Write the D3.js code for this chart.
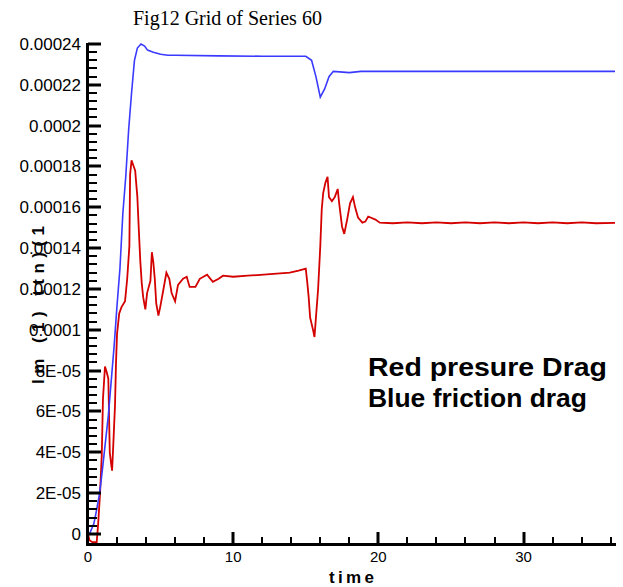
<!DOCTYPE html>
<html>
<head>
<meta charset="utf-8">
<script src="https://cdn.jsdelivr.net/npm/d3@7"></script>
<style>
  body { margin: 0; background: #fff; }
  svg { display: block; }
</style>
</head>
<body>
<svg id="chart" width="623" height="587"></svg>
<script>
// values are in units of 1E-05
const UNIT = 1e-5;

const blueTime  = [0.1, 0.4, 0.6, 0.8, 1.0, 1.2, 1.4, 1.6, 1.8, 2.0, 2.2, 2.4, 2.6, 2.8, 3.0, 3.2, 3.4, 3.65, 3.9, 4.1, 4.5, 5.0, 5.5, 6.0, 9.0, 12.0, 15.0, 15.4, 15.7, 16.0, 16.3, 16.6, 16.9, 18.0, 18.8, 36.3];
const blueValue = [0.0, 0.5, 1.2, 2.0, 3.2, 4.5, 5.8, 7.5, 9.2, 11.2, 13.0, 15.7, 17.5, 19.8, 21.6, 23.2, 23.8, 24.0, 23.9, 23.7, 23.6, 23.5, 23.45, 23.45, 23.42, 23.4, 23.4, 23.2, 22.4, 21.4, 21.8, 22.4, 22.66, 22.6, 22.66, 22.66];

const redTime  = [0.0, 0.1, 0.3, 0.6, 0.7, 0.83, 0.95, 1.03, 1.17, 1.3, 1.4, 1.5, 1.6, 1.66, 1.75, 1.86, 1.93, 2.0, 2.15, 2.3, 2.55, 2.7, 2.85, 2.9, 3.0, 3.15, 3.25, 3.4, 3.5, 3.6, 3.7, 3.8, 3.95, 4.07, 4.3, 4.4, 4.5, 4.6, 4.7, 4.85, 4.97, 5.2, 5.4, 5.6, 5.76, 6.0, 6.2, 6.55, 6.8, 7.0, 7.4, 7.7, 8.2, 8.6, 9.0, 9.3, 10.0, 11.0, 12.1, 13.0, 13.9, 14.5, 15.0, 15.1, 15.2, 15.3, 15.5, 15.6, 15.7, 15.85, 16.0, 16.1, 16.2, 16.35, 16.5, 16.6, 16.8, 17.0, 17.2, 17.3, 17.5, 17.65, 17.85, 18.05, 18.25, 18.4, 18.6, 18.9, 19.1, 19.3, 19.8, 20.1, 21.0, 22.0, 23.0, 24.0, 25.0, 26.0, 27.0, 28.0, 29.0, 30.0, 31.0, 32.0, 33.0, 34.0, 35.0, 36.3];
const redValue = [0.0, -0.3, -0.4, -0.4, 0.5, 2.0, 3.9, 6.6, 8.2, 7.9, 7.6, 4.0, 3.4, 3.1, 4.5, 6.3, 8.4, 9.8, 10.8, 11.1, 11.4, 12.5, 14.1, 17.6, 18.3, 18.0, 17.8, 16.5, 14.9, 13.4, 12.3, 11.6, 11.0, 11.8, 12.4, 13.8, 13.3, 12.5, 11.3, 10.7, 11.1, 12.0, 12.8, 12.5, 11.8, 11.4, 12.2, 12.5, 12.6, 12.1, 12.1, 12.5, 12.7, 12.35, 12.5, 12.65, 12.6, 12.65, 12.7, 12.75, 12.8, 12.9, 13.0, 12.35, 11.6, 10.6, 10.0, 9.65, 10.6, 12.0, 14.1, 15.9, 16.7, 17.2, 17.5, 16.5, 16.3, 16.5, 16.9, 16.2, 15.05, 14.7, 15.4, 16.2, 16.5, 16.0, 15.5, 15.25, 15.3, 15.55, 15.4, 15.25, 15.22, 15.26, 15.22, 15.26, 15.22, 15.26, 15.22, 15.26, 15.22, 15.26, 15.22, 15.26, 15.22, 15.26, 15.22, 15.24];

const xMajor = [0, 10, 20, 30];
const xMinor = [2, 4, 6, 8, 12, 14, 16, 18, 22, 24, 26, 28, 32, 34, 36];
const yMajor = [0, 2, 4, 6, 8, 10, 12, 14, 16, 18, 20, 22, 24];
const yMinor = [0.4, 0.8, 1.2, 1.6, 2.4, 2.8, 3.2, 3.6, 4.4, 4.8, 5.2, 5.6, 6.4, 6.8, 7.2, 7.6, 8.4, 8.8, 9.2, 9.6, 10.4, 10.8, 11.2, 11.6, 12.4, 12.8, 13.2, 13.6, 14.4, 14.8, 15.2, 15.6, 16.4, 16.8, 17.2, 17.6, 18.4, 18.8, 19.2, 19.6, 20.4, 20.8, 21.2, 21.6, 22.4, 22.8, 23.2, 23.6];
const yTickLabels = ["0", "2E-05", "4E-05", "6E-05", "8E-05", "0.0001", "0.00012", "0.00014", "0.00016", "0.00018", "0.0002", "0.00022", "0.00024"];

const svg = d3.select("#chart");
const x = d3.scaleLinear().domain([0, 36.3]).range([88, 615]);
const y = d3.scaleLinear().domain([-0.49 * UNIT, 24 * UNIT]).range([544, 44]);
const sans = "Liberation Sans, Arial, sans-serif";

// title
svg.append("text").attr("x", 133).attr("y", 25)
    .attr("font-family", "Liberation Serif, Times New Roman, serif").attr("font-size", "20px")
    .text("Fig12 Grid of Series 60");

// series
const line = d3.line().x(d => x(d[0])).y(d => y(d[1] * UNIT));
svg.append("path").datum(redTime.map((t, i) => [t, redValue[i]]))
    .attr("d", line).attr("fill", "none").attr("stroke", "#d40000").attr("stroke-width", 1.8);
svg.append("path").datum(blueTime.map((t, i) => [t, blueValue[i]]))
    .attr("d", line).attr("fill", "none").attr("stroke", "#3a3aff").attr("stroke-width", 1.6);

// axes: ticks point into the plot
const yMinPath = yMinor.map(v => `M88,${Math.round(y(v * UNIT))}h9`).join("");
const yMajPath = yMajor.map(v => `M88,${Math.round(y(v * UNIT))}h13`).join("");
const xMinPath = xMinor.map(v => `M${Math.round(x(v))},544v-7`).join("");
const xMajPath = xMajor.filter(v => v > 0).map(v => `M${Math.round(x(v))},544v-12`).join("");
svg.append("path").attr("d", yMinPath + xMinPath).attr("stroke", "#000").attr("stroke-width", 2).attr("fill", "none");
svg.append("path").attr("d", yMajPath + xMajPath).attr("stroke", "#000").attr("stroke-width", 3).attr("fill", "none");
svg.append("path").attr("d", "M87.5,43V544.5H616").attr("stroke", "#000").attr("stroke-width", 3).attr("fill", "none");

// tick labels
svg.selectAll(".ylab").data(yMajor).enter().append("text").attr("class", "ylab")
    .attr("x", 81).attr("y", d => y(d * UNIT)).attr("dy", "0.35em").attr("text-anchor", "end")
    .attr("font-family", sans).attr("font-size", "17px").attr("fill", "#000")
    .text((d, i) => yTickLabels[i]);
svg.selectAll(".xlab").data(xMajor).enter().append("text").attr("class", "xlab")
    .attr("x", d => x(d)).attr("y", 562).attr("text-anchor", "middle")
    .attr("font-family", sans).attr("font-size", "15px").attr("fill", "#000")
    .text(d => d);

svg.append("text").attr("x", 329).attr("y", 583).attr("textLength", 45).attr("lengthAdjust", "spacing")
    .attr("font-family", sans).attr("font-size", "17px").attr("font-weight", "bold")
    .text("time");

// y label (garbled in source)
svg.append("text").attr("transform", "translate(44,305) rotate(-90)")
    .attr("text-anchor", "middle").attr("textLength", 158).attr("lengthAdjust", "spacing")
    .attr("font-family", sans).attr("font-size", "17px").attr("font-weight", "bold")
    .text("lm (1) ttn)(1");

// note
const note = svg.append("g").attr("font-family", sans).attr("font-size", "26px").attr("font-weight", "bold");
note.append("text").attr("x", 368).attr("y", 376).attr("textLength", 239).attr("lengthAdjust", "spacingAndGlyphs")
    .text("Red presure Drag");
note.append("text").attr("x", 368).attr("y", 407).attr("textLength", 219).attr("lengthAdjust", "spacingAndGlyphs")
    .text("Blue friction drag");
</script>
</body>
</html>
